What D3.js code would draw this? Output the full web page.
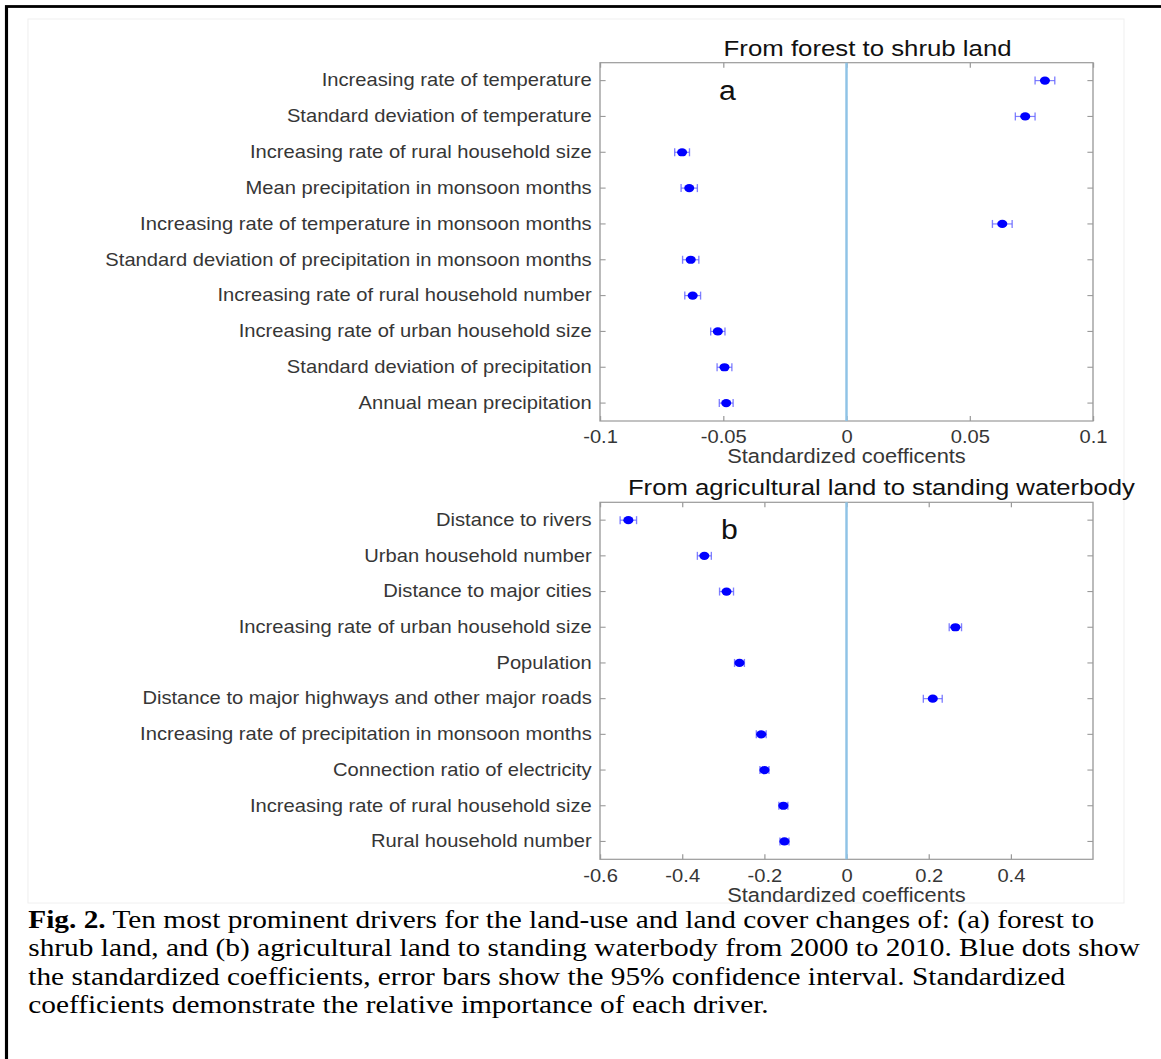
<!DOCTYPE html>
<html>
<head>
<meta charset="utf-8">
<script src="https://cdn.jsdelivr.net/npm/d3@7"></script>
<style>
  html, body { margin: 0; padding: 0; background: #fff; }
  svg { display: block; }
</style>
</head>
<body>
<svg id="fig" width="1161" height="1059"></svg>
<script>
// panel a: from forest to shrub land
var labelsA = [
    "Increasing rate of temperature",
    "Standard deviation of temperature",
    "Increasing rate of rural household size",
    "Mean precipitation in monsoon months",
    "Increasing rate of temperature in monsoon months",
    "Standard deviation of precipitation in monsoon months",
    "Increasing rate of rural household number",
    "Increasing rate of urban household size",
    "Standard deviation of precipitation",
    "Annual mean precipitation"
];
var coefA = [0.0805, 0.0725, -0.0667, -0.0638, 0.0632, -0.0632, -0.0624, -0.0522, -0.0495, -0.0488];
var ciA = [0.0040, 0.0040, 0.0030, 0.0033, 0.0040, 0.0033, 0.0032, 0.0029, 0.0030, 0.0028];
var ticksA = [-0.1, -0.05, 0, 0.05, 0.1];

// panel b: from agricultural land to standing waterbody
var labelsB = [
    "Distance to rivers",
    "Urban household number",
    "Distance to major cities",
    "Increasing rate of urban household size",
    "Population",
    "Distance to major highways and other major roads",
    "Increasing rate of precipitation in monsoon months",
    "Connection ratio of electricity",
    "Increasing rate of rural household size",
    "Rural household number"
];
var coefB = [-0.531, -0.346, -0.292, 0.265, -0.2605, 0.210, -0.2075, -0.1997, -0.1537, -0.151];
var ciB = [0.020, 0.017, 0.017, 0.015, 0.012, 0.023, 0.012, 0.011, 0.011, 0.011];
var ticksB = [-0.6, -0.4, -0.2, 0, 0.2, 0.4];

var captionLines = [
    "Ten most prominent drivers for the land-use and land cover changes of: (a) forest to",
    "shrub land, and (b) agricultural land to standing waterbody from 2000 to 2010. Blue dots show",
    "the standardized coefficients, error bars show the 95% confidence interval. Standardized",
    "coefficients demonstrate the relative importance of each driver."
];

// the whole page picture is stretched a bit sideways
var SX = 1.12;
function X(px) { return px / SX; }

var sansFont = '"Liberation Sans", Arial, Helvetica, sans-serif';
var axisGray = '#9a9a9a';
var textGray = '#363636';

var svg = d3.select('#fig');
var root = svg.append('g').attr('transform', 'scale(' + SX + ',1)');

// page frame
root.append('rect')
    .attr('x', X(6.5)).attr('y', 6.5)
    .attr('width', 1400).attr('height', 1200)
    .attr('fill', 'none').attr('stroke', '#000').attr('stroke-width', 2.8);

// figure image area
root.append('rect')
    .attr('x', X(28)).attr('y', 19)
    .attr('width', X(1124) - X(28)).attr('height', 903 - 19)
    .attr('fill', '#fff').attr('stroke', '#f0f0f0').attr('stroke-width', 1);

function drawPanel(cfg) {
    var left = X(600), right = X(1093);
    var g = root.append('g');

    var x = d3.scaleLinear().domain(cfg.domain).range([left, right]);
    var y = d3.scaleBand().domain(d3.range(cfg.labels.length))
        .range([cfg.top, cfg.bottom]).paddingInner(0).paddingOuter(0);
    var yc = function(i) { return y(i) + y.bandwidth() / 2; };

    // box
    g.append('rect')
        .attr('x', left).attr('y', cfg.top)
        .attr('width', right - left).attr('height', cfg.bottom - cfg.top)
        .attr('fill', '#fff').attr('stroke', axisGray).attr('stroke-width', 1.2);

    var fmt = function(d) { return String(d); };

    g.append('g')
        .attr('transform', 'translate(0,' + cfg.bottom + ')')
        .call(d3.axisBottom(x).tickValues(cfg.ticks).tickFormat(fmt)
            .tickSizeInner(-5).tickSizeOuter(0).tickPadding(9.5));
    g.append('g')
        .attr('transform', 'translate(0,' + cfg.top + ')')
        .call(d3.axisTop(x).tickValues(cfg.ticks).tickFormat('')
            .tickSizeInner(-5).tickSizeOuter(0));
    g.append('g')
        .attr('transform', 'translate(' + left + ',0)')
        .call(d3.axisLeft(y).tickFormat(function(i) { return cfg.labels[i]; })
            .tickSizeInner(-5).tickSizeOuter(0).tickPadding(X(8.3)));
    g.append('g')
        .attr('transform', 'translate(' + right + ',0)')
        .call(d3.axisRight(y).tickFormat('')
            .tickSizeInner(-5).tickSizeOuter(0));

    g.selectAll('.domain').remove();
    g.selectAll('.tick line').attr('stroke', axisGray).attr('stroke-width', 1.1);
    g.selectAll('.tick text')
        .attr('fill', textGray)
        .style('font-family', sansFont)
        .style('font-size', '18px');

    // zero line
    g.append('line')
        .attr('x1', x(0)).attr('x2', x(0))
        .attr('y1', cfg.top).attr('y2', cfg.bottom)
        .attr('stroke', '#8fc3e6').attr('stroke-width', 2.2);

    var rows = d3.range(cfg.labels.length);

    // 95% confidence interval bars
    var bars = g.append('g')
        .attr('stroke', '#6060ff').attr('stroke-width', 1.2).attr('stroke-opacity', 0.8);
    bars.selectAll('line.ci').data(rows).enter().append('line')
        .attr('class', 'ci')
        .attr('x1', function(i) { return x(cfg.coef[i] - cfg.ci[i]); })
        .attr('x2', function(i) { return x(cfg.coef[i] + cfg.ci[i]); })
        .attr('y1', yc).attr('y2', yc);
    bars.selectAll('line.capl').data(rows).enter().append('line')
        .attr('class', 'capl')
        .attr('x1', function(i) { return x(cfg.coef[i] - cfg.ci[i]); })
        .attr('x2', function(i) { return x(cfg.coef[i] - cfg.ci[i]); })
        .attr('y1', function(i) { return yc(i) - 4; })
        .attr('y2', function(i) { return yc(i) + 4; });
    bars.selectAll('line.capr').data(rows).enter().append('line')
        .attr('class', 'capr')
        .attr('x1', function(i) { return x(cfg.coef[i] + cfg.ci[i]); })
        .attr('x2', function(i) { return x(cfg.coef[i] + cfg.ci[i]); })
        .attr('y1', function(i) { return yc(i) - 4; })
        .attr('y2', function(i) { return yc(i) + 4; });

    // coefficients
    g.selectAll('ellipse.dot').data(rows).enter().append('ellipse')
        .attr('class', 'dot')
        .attr('cx', function(i) { return x(cfg.coef[i]); })
        .attr('cy', yc)
        .attr('rx', 4.5).attr('ry', 4.1)
        .attr('fill', '#0000ff');

    // titles and labels
    g.append('text')
        .attr('x', X(cfg.titleX)).attr('y', cfg.titleY)
        .attr('textLength', X(cfg.titleW)).attr('lengthAdjust', 'spacingAndGlyphs')
        .style('font-family', sansFont).style('font-size', '23px')
        .attr('fill', '#111')
        .text(cfg.title);

    g.append('text')
        .attr('x', X(cfg.letterX)).attr('y', cfg.letterY)
        .style('font-family', sansFont).style('font-size', '27px')
        .attr('fill', '#111')
        .text(cfg.letter);

    g.append('text')
        .attr('x', (left + right) / 2).attr('y', cfg.axisLabelY)
        .attr('text-anchor', 'middle')
        .style('font-family', sansFont).style('font-size', '19.5px')
        .attr('fill', textGray)
        .text('Standardized coefficents');
}

drawPanel({
    labels: labelsA, coef: coefA, ci: ciA, ticks: ticksA,
    domain: [-0.1, 0.1], top: 62.7, bottom: 421,
    title: 'From forest to shrub land', titleX: 723.6, titleW: 288, titleY: 56,
    letter: 'a', letterX: 719, letterY: 100,
    axisLabelY: 462.7
});

drawPanel({
    labels: labelsB, coef: coefB, ci: ciB, ticks: ticksB,
    domain: [-0.6, 0.6], top: 502.3, bottom: 859.3,
    title: 'From agricultural land to standing waterbody', titleX: 627.9, titleW: 507, titleY: 495,
    letter: 'b', letterX: 721, letterY: 539.3,
    axisLabelY: 901.7
});

// caption
var cap = root.append('g')
    .style('font-family', '"Liberation Serif", "Times New Roman", serif')
    .style('font-size', '26.2px')
    .attr('fill', '#000');

captionLines.forEach(function(line, i) {
    var t = cap.append('text')
        .attr('x', X(28.3))
        .attr('y', 928 + i * 28.5);
    if (i === 0) {
        t.append('tspan').style('font-weight', 'bold').text('Fig. 2.');
        t.append('tspan').text(' ' + line);
    } else {
        t.text(line);
    }
});
</script>
</body>
</html>
